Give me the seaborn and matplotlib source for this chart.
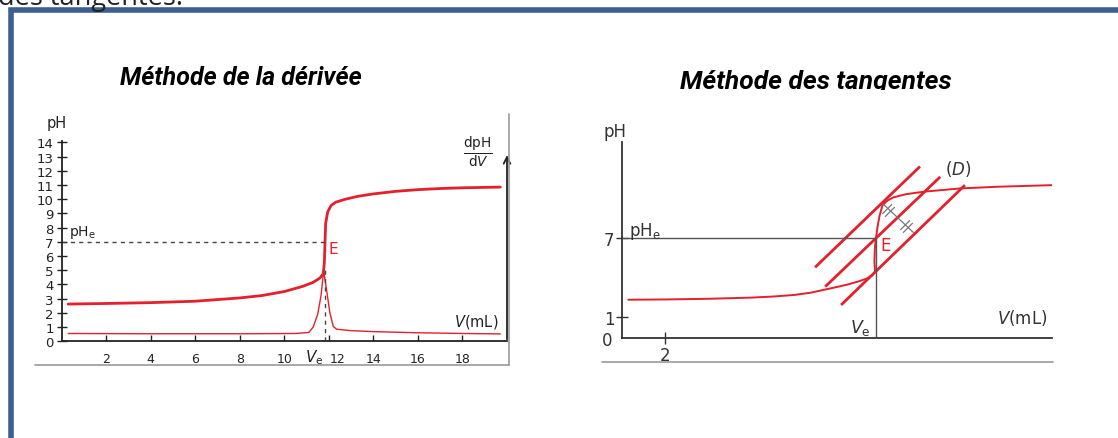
import matplotlib
matplotlib.use('Agg')
import pandas as pd
import seaborn as sns
from matplotlib import pyplot as plt
from matplotlib import transforms
from matplotlib.lines import Line2D
from matplotlib.patches import Rectangle
from matplotlib.path import Path

# --- Méthode de la dérivée : pH = f(V) et dpH/dV ---
v_derivee = [0.3, 2, 4, 6, 8, 9, 10, 10.8, 11.3, 11.6, 11.75, 11.8, 11.83, 11.86,
             11.95, 12.1, 12.3, 12.7, 13.3, 14, 15, 16, 17, 18, 19.7]
ph_derivee = [2.62, 2.66, 2.72, 2.82, 3.05, 3.22, 3.5, 3.85, 4.15, 4.45, 4.75, 5.5, 7.0, 8.3,
              9.1, 9.55, 9.78, 9.98, 10.2, 10.37, 10.55, 10.67, 10.75, 10.8, 10.85]
v_dpdv = [0.3, 4, 8, 10.5, 11.1, 11.3, 11.5, 11.65, 11.77, 11.9, 12.05, 12.2, 12.35,
          13, 14, 16, 18, 19.7]
dpdv = [0.55, 0.53, 0.53, 0.55, 0.62, 1.0, 1.9, 3.2, 4.95, 3.6, 2.0, 1.05, 0.85,
        0.75, 0.68, 0.6, 0.55, 0.52]
ve_derivee = 11.83
phe_derivee = 7.0
dpdv_pic = 5.3
xticks_derivee = [2, 4, 6, 8, 10, 12, 14, 16, 18]
yticks_derivee = list(range(15))

# --- Méthode des tangentes ---
v_tangentes = [0.29, 2, 4, 6, 7, 8, 8.8, 9.44, 10, 10.5, 11, 11.4, 11.65, 11.77, 11.74,
               11.76, 11.81, 11.88, 11.98, 12.12, 12.35, 12.62, 13.2, 14.02, 15.72, 17.5, 20.0]
ph_tangentes = [2.31, 2.33, 2.38, 2.47, 2.55, 2.67, 2.85, 3.08, 3.28, 3.47, 3.7, 3.93, 4.18,
                4.45, 5.2, 6.2, 6.95, 7.8, 8.7, 9.5, 9.85, 10.09, 10.33, 10.52, 10.77, 10.9, 11.02]
ve_tangentes = 11.81
phe_tangentes = 7.0
tangente_haut_v = [8.98, 13.86]
tangente_haut_ph = [4.77, 12.44]
droite_d_v = [9.45, 14.8]
droite_d_ph = [3.3, 11.65]
tangente_bas_v = [10.19, 15.95]
tangente_bas_ph = [1.91, 11.02]
segment_v = [12.15, 13.55]
segment_ph = [9.58, 7.43]
marques_v = [12.36, 13.21]
marques_ph = [9.13, 7.89]

ROUGE = '#e3202b'
GRIS = '#444444'
W, H = 1118, 439

sns.set_theme(style='white')
plt.rcParams['font.family'] = ['DejaVu Sans']

fig = plt.figure(figsize=(W / 100, H / 100), dpi=100)
fig.patch.set_facecolor('white')

# texte coupé au-dessus du cadre
fig.text(-2 / W, 1 - 5 / H, 'des tangentes.', fontsize=19.5, family='Open Sans',
         color='#222222', va='baseline', ha='left')
# cadre bleu
fig.add_artist(Rectangle((11 / W, -0.2), 1.2, 1.2 - 10.5 / H, transform=fig.transFigure,
                         fill=False, edgecolor='#3b5f8f', lw=4))

# titres
fig.text(241 / W, 1 - 85 / H, 'Méthode de la dérivée', family='Roboto', weight='bold',
         style='italic', fontsize=18, ha='center', va='baseline', color='black')
t2 = fig.text(816 / W, 1 - 89 / H, 'Méthode des tangentes', family='Roboto', weight='bold',
              style='italic', fontsize=19, ha='center', va='baseline', color='black')
clip = Rectangle((0, 1 - 91 / H), 1, 91 / H, transform=fig.transFigure)
t2.set_clip_path(clip)
t2.set_clip_on(True)

# bords des images
fig.add_artist(Line2D([35 / W, 509 / W], [1 - 366 / H] * 2, color='#9a9a9a', lw=1.2))
fig.add_artist(Line2D([509 / W] * 2, [1 - 366 / H, 1 - 115 / H], color='#9a9a9a', lw=1.2))
fig.add_artist(Line2D([602 / W, 1053 / W], [1 - 363 / H] * 2, color='#9a9a9a', lw=1.2))

# ---------------- graphique de gauche ----------------
axL = fig.add_axes([61.5 / W, (H - 342.3) / H, (507 - 61.5) / W, (342.3 - 141.9) / H])
df_ph = pd.DataFrame({'V': v_derivee, 'pH': ph_derivee})
df_d = pd.DataFrame({'V': v_dpdv, 'd': dpdv})
sns.lineplot(data=df_ph, x='V', y='pH', ax=axL, color=ROUGE, lw=2.0, sort=False, estimator=None)
sns.lineplot(data=df_d, x='V', y='d', ax=axL, color=ROUGE, lw=1.0, sort=False, estimator=None)
axL.plot([0, ve_derivee], [phe_derivee, phe_derivee], ls=(0, (3, 3)), color=GRIS, lw=1)
axL.plot([ve_derivee, ve_derivee], [0, dpdv_pic], ls=(0, (3, 3)), color=GRIS, lw=1)
axL.set_xlim(0, 20)
axL.set_ylim(0, 14.1)
axL.set_xticks(xticks_derivee)
axL.set_yticks(yticks_derivee)
axL.set_xlabel('')
axL.set_ylabel('')
for s in ['top', 'right']:
    axL.spines[s].set_visible(False)
for s in ['left', 'bottom']:
    axL.spines[s].set_color('#222222')
    axL.spines[s].set_linewidth(1.3)
axL.tick_params(axis='y', direction='inout', length=7, width=1, labelsize=9.5, pad=2,
                left=True, colors='#222222')
axL.tick_params(axis='x', direction='in', length=4, width=1, labelsize=9, pad=8,
                bottom=True, colors='#222222')
# le label 12 est décalé pour laisser la place à Ve
lab12 = axL.get_xticklabels()[xticks_derivee.index(12)]
lab12.set_transform(lab12.get_transform() + transforms.ScaledTranslation(0.09, 0, fig.dpi_scale_trans))
axL.annotate('', xy=(20, 13.3), xytext=(20, -0.05),
             arrowprops=dict(arrowstyle='->', lw=1.3, color='#222222'), annotation_clip=False)
axL.text(-0.2, 15.4, 'pH', fontsize=10.5, ha='center', va='center', color='#222222')
axL.text(0.35, 7.7, 'pH$_\\mathrm{e}$', fontsize=10, ha='left', va='center', color='#222222')
axL.text(12.0, 6.55, 'E', fontsize=11, ha='left', va='center', color=ROUGE)
axL.text(18.7, 13.4, r'$\frac{\mathrm{dpH}}{\mathrm{d}V}$', fontsize=14, ha='center',
         va='center', color='#222222')
axL.text(18.6, 1.43, '$V$(mL)', fontsize=10.5, ha='center', va='center', color='#222222')
axL.text(11.35, -1.05, '$V_\\mathrm{e}$', fontsize=11, ha='center', va='center', color='#222222')

# ---------------- graphique de droite ----------------
axR = fig.add_axes([622 / W, (H - 339) / H, (1052 - 622) / W, (339 - 143) / H])
df_t = pd.DataFrame({'V': v_tangentes, 'pH': ph_tangentes})
sns.lineplot(data=df_t, x='V', y='pH', ax=axR, color=ROUGE, lw=1.4, sort=False, estimator=None)
for vv, pp in [(tangente_haut_v, tangente_haut_ph), (droite_d_v, droite_d_ph),
               (tangente_bas_v, tangente_bas_ph)]:
    axR.plot(vv, pp, color=ROUGE, lw=2.0, solid_capstyle='butt')
axR.plot(segment_v, segment_ph, color='#777777', lw=0.9)
marque = Path([(-0.9, -0.5), (0.5, 0.9), (-0.5, -0.9), (0.9, 0.5)],
              [Path.MOVETO, Path.LINETO, Path.MOVETO, Path.LINETO])
axR.plot(marques_v, marques_ph, ls='none', marker=marque, ms=9, mew=0.9,
         mec='#777777', mfc='none')
axR.plot([0, ve_tangentes], [phe_tangentes, phe_tangentes], color='#555555', lw=1)
axR.plot([ve_tangentes, ve_tangentes], [-0.6, phe_tangentes], color='#555555', lw=1)
axR.set_xlim(0, 20)
axR.set_ylim(-0.6, 14.3)
axR.set_xticks([2])
axR.set_yticks([1, 7])
axR.set_xlabel('')
axR.set_ylabel('')
for s in ['top', 'right']:
    axR.spines[s].set_visible(False)
for s in ['left', 'bottom']:
    axR.spines[s].set_color('#333333')
    axR.spines[s].set_linewidth(1.3)
axR.tick_params(axis='both', direction='inout', length=9, width=1, labelsize=12,
                left=True, bottom=True, colors='#333333', pad=1)
axR.text(-0.7, -0.75, '0', fontsize=12, ha='center', va='center', color='#333333')
axR.text(-0.33, 15.15, 'pH', fontsize=12, ha='center', va='center', color='#333333')
axR.text(0.33, 7.6, 'pH$_\\mathrm{e}$', fontsize=12, ha='left', va='center', color='#333333')
axR.text(12.0, 6.45, 'E', fontsize=12, ha='left', va='center', color=ROUGE)
axR.text(15.64, 12.3, '($D$)', fontsize=12, ha='center', va='center', color='#333333')
axR.text(11.07, 0.2, '$V_\\mathrm{e}$', fontsize=12.5, ha='center', va='center', color='#333333')
axR.text(18.6, 0.98, '$V$(mL)', fontsize=12, ha='center', va='center', color='#333333')

fig.savefig('out.png', dpi=100)
